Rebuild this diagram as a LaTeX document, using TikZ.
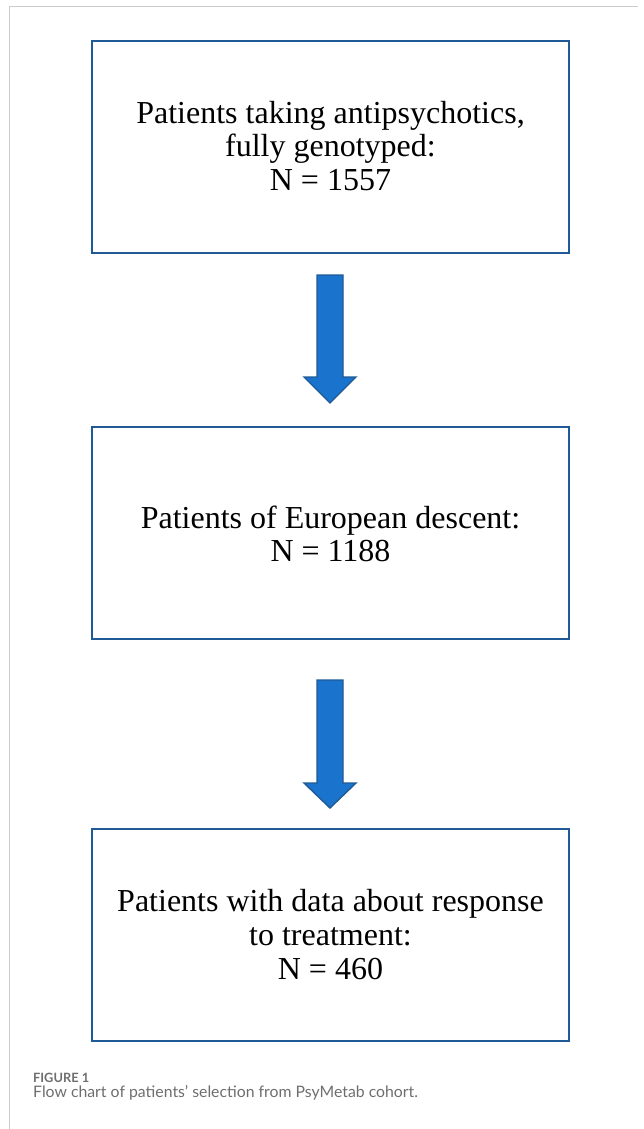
\documentclass[tikz,border=0pt]{standalone}
\usepackage{fontspec}
\setmainfont{Liberation Serif}
\newfontfamily\capfont{Lato}
\definecolor{boxblue}{HTML}{1F5A96}
\definecolor{arrowfill}{HTML}{1A73CC}
\definecolor{framegray}{HTML}{CCCCCC}
\definecolor{capgray}{HTML}{6E6E6E}
\begin{document}
\begin{tikzpicture}[x=1pt,y=-1pt,
  flowbox/.style={draw=boxblue,line width=2.6pt,fill=white},
  boxtext/.style={align=center,font=\fontsize{32}{33.6}\selectfont,inner sep=0pt},
  bigarrow/.style={draw=boxblue,line width=1.4pt,fill=arrowfill,line join=miter}]
\useasboundingbox (0,0) rectangle (643,1129);
\draw[framegray,line width=1pt] (9,1129) -- (9,7) -- (638,7);
% boxes
\draw[flowbox] (92,41) rectangle (569,253);
\draw[flowbox] (92,427) rectangle (569,639);
\draw[flowbox] (92,829) rectangle (569,1041);
\node[boxtext] (b1) at (330.5,146) {Patients taking antipsychotics,\\fully genotyped:\\N = 1557};
\node[boxtext] (b2) at (330.5,534) {Patients of European descent:\\N = 1188};
\node[boxtext] (b3) at (330.5,934.5) {Patients with data about response\\to treatment:\\N = 460};
% arrows
\draw[bigarrow] (317,275) -- (343,275) -- (343,377) -- (356,377) -- (330,403) -- (304,377) -- (317,377) -- cycle;
\draw[bigarrow] (317,680) -- (343,680) -- (343,783) -- (356,783) -- (330,808) -- (304,783) -- (317,783) -- cycle;
% caption
\node[anchor=base west,inner sep=0pt,text=capgray,font=\capfont\bfseries\fontsize{12.8}{14}\selectfont] (fig) at (33,1082) {FIGURE 1};
\node[anchor=base west,inner sep=0pt,text=capgray,font=\capfont\fontsize{15.8}{18}\selectfont] (cap) at (33,1097) {Flow chart of patients’ selection from PsyMetab cohort.};
\end{tikzpicture}
\end{document}
